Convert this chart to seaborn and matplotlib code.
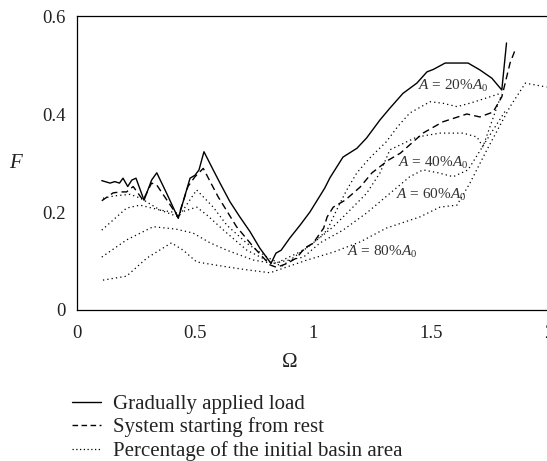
import matplotlib
matplotlib.use("Agg")
import matplotlib.pyplot as plt
import seaborn as sns
from matplotlib.lines import Line2D

# ---- data ----
solid_x = [0.105, 0.14, 0.16, 0.18, 0.195, 0.215, 0.232, 0.25, 0.284, 0.316, 0.338, 0.38, 0.429,
           0.479, 0.50, 0.517, 0.538, 0.577, 0.606, 0.648, 0.69, 0.733, 0.775, 0.822, 0.843, 0.865,
           0.902, 0.945, 0.987, 1.05, 1.072, 1.127, 1.186, 1.227, 1.284, 1.326, 1.381, 1.44, 1.483,
           1.51, 1.56, 1.657, 1.707, 1.758, 1.80, 1.82]
solid_y = [0.264, 0.259, 0.262, 0.259, 0.269, 0.252, 0.265, 0.269, 0.224, 0.265, 0.28, 0.238, 0.187,
           0.269, 0.275, 0.286, 0.323, 0.286, 0.259, 0.221, 0.19, 0.16, 0.126, 0.095, 0.116, 0.122,
           0.147, 0.173, 0.2, 0.249, 0.27, 0.312, 0.33, 0.351, 0.388, 0.412, 0.442, 0.463, 0.486,
           0.491, 0.504, 0.504, 0.49, 0.473, 0.449, 0.545]

dash_x = [0.105, 0.153, 0.184, 0.21, 0.238, 0.28, 0.316, 0.338, 0.429, 0.47, 0.50, 0.535, 0.598,
          0.676, 0.747, 0.818, 0.846, 0.89, 0.93, 0.966, 1.0, 1.045, 1.06, 1.086, 1.136, 1.2, 1.25,
          1.32, 1.37, 1.466, 1.55, 1.652, 1.707, 1.763, 1.8, 1.835, 1.86]
dash_y = [0.223, 0.239, 0.241, 0.241, 0.252, 0.224, 0.259, 0.255, 0.19, 0.252, 0.272, 0.289, 0.231,
          0.17, 0.129, 0.092, 0.087, 0.095, 0.106, 0.127, 0.136, 0.167, 0.19, 0.21, 0.224, 0.251, 0.28,
          0.306, 0.32, 0.361, 0.384, 0.40, 0.394, 0.404, 0.435, 0.504, 0.535]

p20_x = [0.11, 0.16, 0.225, 0.27, 0.352, 0.43, 0.507, 0.577, 0.635, 0.72, 0.805, 0.85, 0.96, 1.0,
         1.06, 1.1, 1.143, 1.186, 1.24, 1.31, 1.36, 1.41, 1.496, 1.55, 1.61, 1.665, 1.737, 1.80]
p20_y = [0.228, 0.233, 0.236, 0.228, 0.204, 0.19, 0.245, 0.21, 0.173, 0.136, 0.108, 0.097, 0.122,
         0.136, 0.163, 0.204, 0.245, 0.28, 0.31, 0.343, 0.375, 0.402, 0.425, 0.422, 0.415, 0.422,
         0.433, 0.443]

p40_x = [0.105, 0.21, 0.267, 0.352, 0.43, 0.507, 0.55, 0.635, 0.72, 0.818, 0.87, 1.017, 1.086,
         1.157, 1.227, 1.284, 1.326, 1.44, 1.538, 1.636, 1.695, 1.72, 1.785, 1.80]
p40_y = [0.163, 0.208, 0.214, 0.204, 0.198, 0.21, 0.194, 0.157, 0.122, 0.098, 0.09, 0.143, 0.17,
         0.204, 0.238, 0.28, 0.327, 0.353, 0.361, 0.361, 0.353, 0.333, 0.422, 0.44]

p60_x = [0.105, 0.21, 0.323, 0.42, 0.492, 0.564, 0.635, 0.747, 0.83, 0.96, 1.03, 1.127, 1.227,
         1.326, 1.41, 1.466, 1.53, 1.594, 1.657, 1.74, 1.82]
p60_y = [0.108, 0.143, 0.17, 0.165, 0.157, 0.137, 0.122, 0.102, 0.095, 0.108, 0.137, 0.163, 0.198,
         0.238, 0.272, 0.286, 0.28, 0.272, 0.286, 0.35, 0.41]

p80_x = [0.11, 0.21, 0.296, 0.40, 0.45, 0.507, 0.635, 0.72, 0.818, 0.975, 1.086, 1.2, 1.31, 1.453,
         1.538, 1.61, 1.665, 1.737, 1.835, 1.9, 1.99]
p80_y = [0.061, 0.069, 0.106, 0.137, 0.122, 0.098, 0.088, 0.082, 0.076, 0.102, 0.118, 0.139, 0.167,
         0.19, 0.21, 0.214, 0.259, 0.327, 0.415, 0.463, 0.455]

labels = ["$A$ = 20%$A_0$", "$A$ = 40%$A_0$", "$A$ = 60%$A_0$", "$A$ = 80%$A_0$"]
label_x = [1.445, 1.36, 1.35, 1.145]
label_y = [0.457, 0.300, 0.234, 0.118]

legend_labels = ["Gradually applied load", "System starting from rest",
                 "Percentage of the initial basin area"]
xticks = [0, 0.5, 1, 1.5, 2]
xticklabels = ["0", "0.5", "1", "1.5", "2"]
yticks = [0, 0.2, 0.4, 0.6]
yticklabels = ["0", "0.2", "0.4", "0.6"]

# ---- style ----
sns.set_theme(style="white")
plt.rcParams['font.family'] = ['Liberation Serif', 'DejaVu Serif']
plt.rcParams['mathtext.fontset'] = 'custom'
plt.rcParams['mathtext.rm'] = 'Liberation Serif'
plt.rcParams['mathtext.it'] = 'Liberation Serif:italic'

fig = plt.figure(figsize=(5.47, 4.61), dpi=100)
ax = fig.add_axes([77 / 547, 151 / 461, 472 / 547, 294 / 461])

kw = dict(ax=ax, color="black", sort=False, estimator=None)
sns.lineplot(x=solid_x, y=solid_y, linewidth=1.0, **kw)
sns.lineplot(x=dash_x, y=dash_y, linewidth=1.0, **kw)
ax.lines[-1].set_dashes([5, 3])
for px, py in [(p20_x, p20_y), (p40_x, p40_y), (p60_x, p60_y), (p80_x, p80_y)]:
    sns.lineplot(x=px, y=py, linewidth=0.9, **kw)
    ax.lines[-1].set_linestyle((0, (1, 2.5)))

for t, lx, ly in zip(labels, label_x, label_y):
    ax.text(lx, ly, t, fontsize=11, color="#333333", ha="left", va="center")

ax.set_xlim(0, 2)
ax.set_ylim(0, 0.6)
ax.set_xticks(xticks)
ax.set_xticklabels(xticklabels)
ax.set_yticks(yticks)
ax.set_yticklabels(yticklabels)
ax.tick_params(axis="x", direction="in", length=5, width=0.8, labelsize=13.5, pad=11, colors="black")
ax.tick_params(axis="y", direction="out", length=5, width=0.8, labelsize=13.5, pad=3, colors="black")
ax.tick_params(axis="both", labelcolor="#222222")
for s in ax.spines.values():
    s.set_color("black")
    s.set_linewidth(0.9)
ax.set_xlabel("")
ax.set_ylabel("")

fig.text(17 / 547, 1 - 163 / 461, "$F$", fontsize=15, ha="center", va="center", color="#222222")
fig.text(290 / 547, 1 - 362 / 461, "Ω", fontsize=15, ha="center", va="center", color="#222222")

handles = [Line2D([0], [0], color="black", lw=1.0),
           Line2D([0], [0], color="black", lw=1.0, dashes=[4, 2.5]),
           Line2D([0], [0], color="black", lw=0.9, linestyle=(0, (1, 2)))]
leg = fig.legend(handles, legend_labels, loc="upper left",
                 bbox_to_anchor=(66 / 547, 1 - 388 / 461), frameon=False,
                 fontsize=15, handlelength=1.4, handletextpad=0.55, labelspacing=0.18,
                 borderaxespad=0, borderpad=0.3)
for t in leg.get_texts():
    t.set_color("#222222")

fig.savefig("out.png", dpi=100)
